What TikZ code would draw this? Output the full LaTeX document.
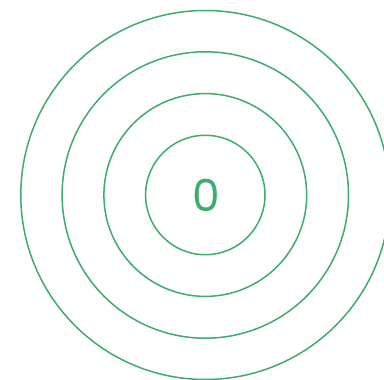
\documentclass[tikz,border=0pt]{standalone}
\usepackage{fontspec}
\setsansfont{Poppins}
\definecolor{ringGreen}{RGB}{62,172,110}

\begin{document}
\begin{tikzpicture}[
    x=1pt, y=1pt,
    ring/.style={draw=ringGreen, line width=1.5pt},
    label/.style={font=\sffamily\fontsize{44}{44}\selectfont, text=ringGreen,
                  inner sep=0pt}
  ]
  % Background
  \useasboundingbox (0,0) rectangle (384,380);
  \clip (0,0) rectangle (384,380);
  \fill[white] (0,0) rectangle (384,380);

  % Rings
  \coordinate (centre) at (205.3,185);
  \foreach \r in {59.7,101.4,143.2,184.5}
    \draw[ring] (centre) circle[radius=\r];

  % Value
  \node[label] (zero) at (206.8,184.5) {0};
\end{tikzpicture}
\end{document}
